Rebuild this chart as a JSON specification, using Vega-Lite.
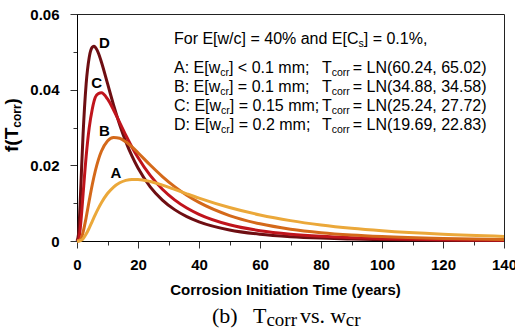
{
  "$schema": "https://vega.github.io/schema/vega-lite/v6.json",
  "width": 427,
  "height": 227,
  "autosize": "none",
  "padding": {"left": 77, "top": 14, "right": 11, "bottom": 88},
  "background": "white",
  "config": {
    "view": {"stroke": "#222", "strokeWidth": 1},
    "axis": {"grid": false, "domainColor": "#000", "tickColor": "#333", "labelColor": "#000", "labelFont": "Liberation Sans", "labelFontSize": 15, "labelFontWeight": "bold", "titleFont": "Liberation Sans", "titleColor": "#000"}
  },
  "datasets": {
    "curves": [
      {"c":"D","x":0,"y":0},{"c":"D","x":0.5,"y":0.001775},{"c":"D","x":1,"y":0.0094},{"c":"D","x":1.5,"y":0.019186},{"c":"D","x":2,"y":0.028316},{"c":"D","x":3,"y":0.041557},{"c":"D","x":4,"y":0.048534},{"c":"D","x":5,"y":0.051201},{"c":"D","x":5.5,"y":0.051459},{"c":"D","x":6,"y":0.051217},{"c":"D","x":7,"y":0.049695},{"c":"D","x":8,"y":0.047334},{"c":"D","x":10,"y":0.041645},{"c":"D","x":12,"y":0.035915},{"c":"D","x":14,"y":0.030741},{"c":"D","x":16,"y":0.026266},{"c":"D","x":18,"y":0.022469},{"c":"D","x":20,"y":0.019273},{"c":"D","x":24,"y":0.01433},{"c":"D","x":28,"y":0.01082},{"c":"D","x":32,"y":0.008293},{"c":"D","x":36,"y":0.006446},{"c":"D","x":40,"y":0.005075},{"c":"D","x":50,"y":0.002929},{"c":"D","x":60,"y":0.00179},{"c":"D","x":70,"y":0.001145},{"c":"D","x":80,"y":0.00076},{"c":"D","x":90,"y":0.000521},{"c":"D","x":100,"y":0.000366},{"c":"D","x":120,"y":0.000193},{"c":"D","x":140,"y":0.000109},
      {"c":"C","x":0,"y":0},{"c":"C","x":0.5,"y":0.000347},{"c":"C","x":1,"y":0.002815},{"c":"C","x":1.5,"y":0.007223},{"c":"C","x":2,"y":0.012426},{"c":"C","x":3,"y":0.022351},{"c":"C","x":4,"y":0.029886},{"c":"C","x":5,"y":0.034839},{"c":"C","x":6,"y":0.037986},{"c":"C","x":7,"y":0.038975},{"c":"C","x":8,"y":0.039166},{"c":"C","x":10,"y":0.037549},{"c":"C","x":12,"y":0.034622},{"c":"C","x":14,"y":0.031284},{"c":"C","x":16,"y":0.027966},{"c":"C","x":18,"y":0.024864},{"c":"C","x":20,"y":0.022051},{"c":"C","x":24,"y":0.017331},{"c":"C","x":28,"y":0.013682},{"c":"C","x":32,"y":0.010881},{"c":"C","x":36,"y":0.008725},{"c":"C","x":40,"y":0.007056},{"c":"C","x":50,"y":0.004297},{"c":"C","x":60,"y":0.002734},{"c":"C","x":70,"y":0.001806},{"c":"C","x":80,"y":0.00123},{"c":"C","x":90,"y":0.000861},{"c":"C","x":100,"y":0.000616},{"c":"C","x":120,"y":0.000334},{"c":"C","x":140,"y":0.000193},
      {"c":"B","x":0,"y":0},{"c":"B","x":0.5,"y":0.000014},{"c":"B","x":1,"y":0.00026},{"c":"B","x":1.5,"y":0.00103},{"c":"B","x":2,"y":0.002362},{"c":"B","x":3,"y":0.006201},{"c":"B","x":4,"y":0.01063},{"c":"B","x":5,"y":0.014858},{"c":"B","x":6,"y":0.018507},{"c":"B","x":7,"y":0.021454},{"c":"B","x":8,"y":0.02371},{"c":"B","x":10,"y":0.026438},{"c":"B","x":12,"y":0.027379},{"c":"B","x":14,"y":0.027153},{"c":"B","x":16,"y":0.026212},{"c":"B","x":18,"y":0.024866},{"c":"B","x":20,"y":0.023317},{"c":"B","x":24,"y":0.020076},{"c":"B","x":28,"y":0.017033},{"c":"B","x":32,"y":0.014363},{"c":"B","x":36,"y":0.012094},{"c":"B","x":40,"y":0.010193},{"c":"B","x":50,"y":0.006726},{"c":"B","x":60,"y":0.004537},{"c":"B","x":70,"y":0.003132},{"c":"B","x":80,"y":0.002209},{"c":"B","x":90,"y":0.001588},{"c":"B","x":100,"y":0.001163},{"c":"B","x":120,"y":0.000652},{"c":"B","x":140,"y":0.000385},
      {"c":"A","x":0,"y":0},{"c":"A","x":0.5,"y":0},{"c":"A","x":1,"y":0.00006},{"c":"A","x":1.5,"y":0.000255},{"c":"A","x":2,"y":0.000622},{"c":"A","x":3,"y":0.001818},{"c":"A","x":4,"y":0.003421},{"c":"A","x":5,"y":0.005189},{"c":"A","x":6,"y":0.006952},{"c":"A","x":7,"y":0.008608},{"c":"A","x":8,"y":0.010104},{"c":"A","x":10,"y":0.012544},{"c":"A","x":12,"y":0.01427},{"c":"A","x":14,"y":0.015387},{"c":"A","x":16,"y":0.016022},{"c":"A","x":18,"y":0.016288},{"c":"A","x":20,"y":0.016281},{"c":"A","x":24,"y":0.015725},{"c":"A","x":28,"y":0.014765},{"c":"A","x":32,"y":0.013638},{"c":"A","x":36,"y":0.012475},{"c":"A","x":40,"y":0.011344},{"c":"A","x":50,"y":0.008847},{"c":"A","x":60,"y":0.006883},{"c":"A","x":70,"y":0.005383},{"c":"A","x":80,"y":0.004244},{"c":"A","x":90,"y":0.003375},{"c":"A","x":100,"y":0.002709},{"c":"A","x":120,"y":0.001789},{"c":"A","x":140,"y":0.001219}
    ],
    "notes": [
      {"t":"For E[w/c] = 40% and E[C","x":31.8,"y":0.05207,"k":"n"},
      {"t":"s","x":92.3,"y":0.05207,"k":"ns"},
      {"t":"] = 0.1%,","x":94.02,"y":0.05207,"k":"n"},
      {"t":"A: E[w","x":31.8,"y":0.04441,"k":"n"},
      {"t":"cr","x":46.96,"y":0.04441,"k":"ns"},
      {"t":"] < 0.1 mm;","x":49.83,"y":0.04441,"k":"n"},
      {"t":"T","x":80.33,"y":0.04441,"k":"n"},
      {"t":"corr","x":83.53,"y":0.04441,"k":"ns"},
      {"t":"= LN(60.24, 65.02)","x":90.4,"y":0.04441,"k":"n"},
      {"t":"B: E[w","x":31.8,"y":0.03938,"k":"n"},
      {"t":"cr","x":46.96,"y":0.03938,"k":"ns"},
      {"t":"] = 0.1 mm;","x":49.83,"y":0.03938,"k":"n"},
      {"t":"T","x":80.33,"y":0.03938,"k":"n"},
      {"t":"corr","x":83.53,"y":0.03938,"k":"ns"},
      {"t":"= LN(34.88, 34.58)","x":90.4,"y":0.03938,"k":"n"},
      {"t":"C: E[w","x":31.8,"y":0.03436,"k":"n"},
      {"t":"cr","x":47.25,"y":0.03436,"k":"ns"},
      {"t":"] = 0.15 mm;","x":50.12,"y":0.03436,"k":"n"},
      {"t":"T","x":80.33,"y":0.03436,"k":"n"},
      {"t":"corr","x":83.53,"y":0.03436,"k":"ns"},
      {"t":"= LN(25.24, 27.72)","x":90.4,"y":0.03436,"k":"n"},
      {"t":"D: E[w","x":31.8,"y":0.02934,"k":"n"},
      {"t":"cr","x":47.25,"y":0.02934,"k":"ns"},
      {"t":"] = 0.2 mm;","x":50.12,"y":0.02934,"k":"n"},
      {"t":"T","x":80.33,"y":0.02934,"k":"n"},
      {"t":"corr","x":83.53,"y":0.02934,"k":"ns"},
      {"t":"= LN(19.69, 22.83)","x":90.4,"y":0.02934,"k":"n"},
      {"t":"A","x":12.79,"y":0.01805,"k":"L"},
      {"t":"B","x":8.95,"y":0.02916,"k":"L"},
      {"t":"C","x":6.45,"y":0.04168,"k":"L"},
      {"t":"D","x":9.0,"y":0.05241,"k":"L"},
      {"t":"f(T","x":-19.34,"y":0.023525,"k":"Y"},
      {"t":"corr","x":-18.36,"y":0.029949,"k":"Ys"},
      {"t":")","x":-19.34,"y":0.036106,"k":"Y"},
      {"t":"(b)","x":44.26,"y":-0.02167,"k":"P"},
      {"t":"T","x":57.7,"y":-0.02167,"k":"P"},
      {"t":"corr","x":62.1,"y":-0.02167,"k":"Ps"},
      {"t":"vs.","x":73.1,"y":-0.02167,"k":"P"},
      {"t":"w","x":83.0,"y":-0.02167,"k":"P"},
      {"t":"cr","x":88.1,"y":-0.02167,"k":"Ps"}
    ]
  },
  "encoding": {
    "x": {"field": "x", "type": "quantitative", "scale": {"domain": [0, 140], "nice": false},
      "axis": {"values": [0,10,20,30,40,50,60,70,80,90,100,110,120,130,140],
        "labelExpr": "datum.value % 20 == 0 ? datum.label : ''",
        "tickSize": {"condition": {"test": "datum.value % 20 != 0", "value": 4}, "value": 7},
        "labelPadding": 9, "labelOverlap": false, "labelFlush": false,
        "title": "Corrosion Initiation Time (years)", "titleFontSize": 15, "titleFontWeight": "bold",
        "titleBaseline": "alphabetic", "titleY": 53, "titleX": 208}},
    "y": {"field": "y", "type": "quantitative", "scale": {"domain": [0, 0.06], "nice": false, "zero": true},
      "axis": {"values": [0,0.01,0.02,0.03,0.04,0.05,0.06],
        "labelExpr": "datum.value == 0 ? '0' : (round(datum.value*100) % 2 == 0 ? format(datum.value, '.2f') : '')",
        "tickSize": {"condition": {"test": "round(datum.value*100) % 2 == 1", "value": 4}, "value": 7},
        "labelPadding": 11, "labelOverlap": false, "labelFlush": false, "title": null}}
  },
  "layer": [
    {
      "data": {"name": "curves"},
      "mark": {"type": "line", "interpolate": "monotone", "strokeWidth": 3},
      "encoding": {
        "color": {"field": "c", "type": "nominal", "scale": {"domain": ["A","B","C","D"], "range": ["#EBA83A","#D4691A","#C0141C","#6E0E12"]}, "legend": null}
      }
    },
    {
      "data": {"name": "notes"},
      "transform": [{"filter": "datum.k == 'n'"}],
      "mark": {"type": "text", "align": "left", "baseline": "alphabetic", "font": "Liberation Sans", "fontSize": 16, "color": "#000"},
      "encoding": {"text": {"field": "t"}}
    },
    {
      "data": {"name": "notes"},
      "transform": [{"filter": "datum.k == 'ns'"}],
      "mark": {"type": "text", "align": "left", "baseline": "alphabetic", "font": "Liberation Sans", "fontSize": 10.5, "dy": 3, "color": "#000"},
      "encoding": {"text": {"field": "t"}}
    },
    {
      "data": {"name": "notes"},
      "transform": [{"filter": "datum.k == 'L'"}],
      "mark": {"type": "text", "align": "center", "baseline": "middle", "font": "Liberation Sans", "fontSize": 15, "fontWeight": "bold", "color": "#000"},
      "encoding": {"text": {"field": "t"}}
    },
    {
      "data": {"name": "notes"},
      "transform": [{"filter": "datum.k == 'Y'"}],
      "mark": {"type": "text", "align": "left", "baseline": "alphabetic", "angle": 270, "font": "Liberation Sans", "fontSize": 19, "fontWeight": "bold", "color": "#000"},
      "encoding": {"text": {"field": "t"}}
    },
    {
      "data": {"name": "notes"},
      "transform": [{"filter": "datum.k == 'Ys'"}],
      "mark": {"type": "text", "align": "left", "baseline": "alphabetic", "angle": 270, "font": "Liberation Sans", "fontSize": 12, "fontWeight": "bold", "color": "#000"},
      "encoding": {"text": {"field": "t"}}
    },
    {
      "data": {"name": "notes"},
      "transform": [{"filter": "datum.k == 'P'"}],
      "mark": {"type": "text", "align": "left", "baseline": "alphabetic", "font": "Liberation Serif", "fontSize": 22, "color": "#000"},
      "encoding": {"text": {"field": "t"}}
    },
    {
      "data": {"name": "notes"},
      "transform": [{"filter": "datum.k == 'Ps'"}],
      "mark": {"type": "text", "align": "left", "baseline": "alphabetic", "font": "Liberation Serif", "fontSize": 19, "dy": 3, "color": "#000"},
      "encoding": {"text": {"field": "t"}}
    }
  ]
}
